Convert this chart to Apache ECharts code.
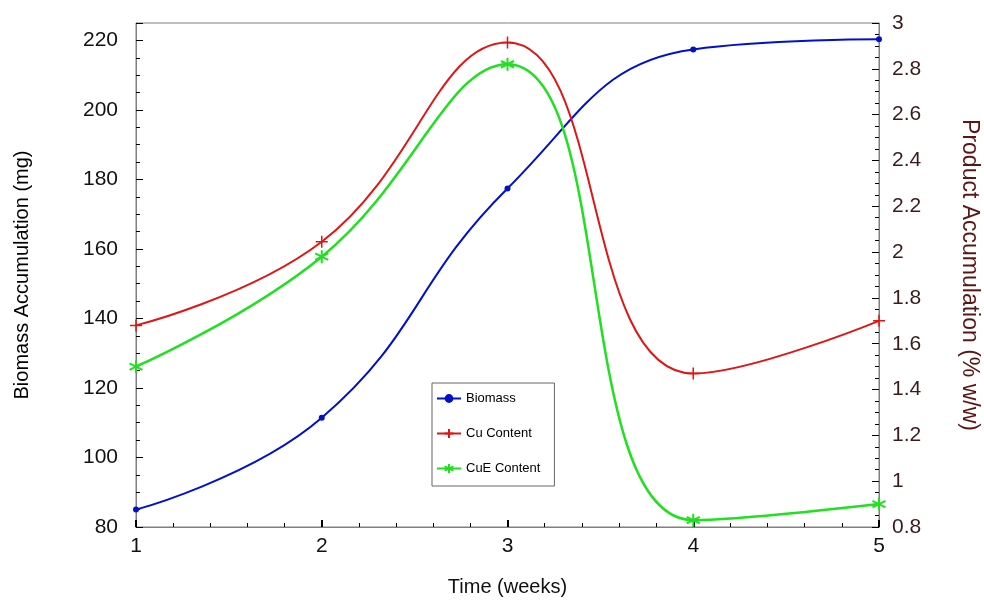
<!DOCTYPE html>
<html><head><meta charset="utf-8">
<script src="https://cdn.jsdelivr.net/npm/echarts@6/dist/echarts.min.js"></script>
<style>html,body{margin:0;padding:0;background:#fff}#c{width:984px;height:602px}</style>
</head><body><div id="c"></div>
<script>
const weeks = [1, 2, 3, 4, 5];
const biomass = [85, 111.4, 177.4, 217.4, 220.3];
const cuContent = [1.68, 2.045, 2.915, 1.47, 1.70];
const cueContent = [1.50, 1.98, 2.82, 0.83, 0.90];
const leftTicks = [80, 100, 120, 140, 160, 180, 200, 220];
const rightTicks = [0.8, 1, 1.2, 1.4, 1.6, 1.8, 2, 2.2, 2.4, 2.6, 2.8, 3];

const plusPath = 'path://M5,0L5,10M0,5L10,5';
const starPath = 'path://M5,0L5,10M0.7,2.5L9.3,7.5M0.7,7.5L9.3,2.5';
const font = 'Liberation Sans, Arial, sans-serif';

const chart = echarts.init(document.getElementById('c'), null, {renderer: 'canvas'});
chart.setOption({
  animation: false,
  backgroundColor: '#fff',
  grid: {left: 136, right: 105, top: 23, bottom: 75, show: true, borderColor: '#808080', borderWidth: 1,
         containLabel: false, outerBoundsMode: 'none'},
  legend: {
    orient: 'vertical', left: 432, top: 383, width: 110,
    itemWidth: 24, itemHeight: 11, itemGap: 22,
    padding: [9, 14, 11, 4],
    borderColor: '#666', borderWidth: 1, backgroundColor: '#fff',
    textStyle: {fontFamily: font, fontSize: 13, color: '#000'},
    data: ['Biomass', 'Cu Content', 'CuE Content']
  },
  xAxis: {
    type: 'value', min: 1, max: 5, interval: 1,
    name: 'Time (weeks)', nameLocation: 'middle', nameGap: 50,
    nameTextStyle: {fontFamily: font, fontSize: 20, color: '#111'},
    axisLine: {lineStyle: {color: '#808080'}},
    axisTick: {inside: true, length: 7, lineStyle: {color: '#000', width: 2}},
    minorTick: {show: true, splitNumber: 5, length: 4, lineStyle: {color: '#000'}},
    splitLine: {show: false},
    axisLabel: {fontFamily: font, fontSize: 21, color: '#111', margin: 9,
      formatter: v => weeks.includes(v) ? String(v) : ''}
  },
  yAxis: [{
    type: 'value', min: 80, max: 225, interval: 20, position: 'left',
    name: 'Biomass Accumulation (mg)', nameLocation: 'middle', nameGap: 104, nameRotate: 90,
    nameTextStyle: {fontFamily: font, fontSize: 20, color: '#000'},
    axisLine: {show: true, lineStyle: {color: '#808080'}},
    axisTick: {inside: true, length: 7, lineStyle: {color: '#000'}},
    minorTick: {show: true, splitNumber: 4, length: 4, lineStyle: {color: '#000'}},
    splitLine: {show: false},
    axisLabel: {fontFamily: font, fontSize: 21, color: '#111', margin: 18,
      formatter: v => leftTicks.includes(v) ? String(v) : ''}
  }, {
    type: 'value', min: 0.8, max: 3, interval: 0.2, position: 'right',
    name: 'Product Accumulation (% w/w)', nameLocation: 'middle', nameGap: 79, nameRotate: -90,
    nameTextStyle: {fontFamily: font, fontSize: 23, color: '#5a1515'},
    axisLine: {show: true, lineStyle: {color: '#808080'}},
    axisTick: {inside: true, length: 7, lineStyle: {color: '#000'}},
    minorTick: {show: true, splitNumber: 4, length: 4, lineStyle: {color: '#000'}},
    splitLine: {show: false},
    axisLabel: {fontFamily: font, fontSize: 21, color: '#3a1a1a', margin: 13,
      formatter: v => {
        const r = Math.round(v * 10) / 10;
        return rightTicks.some(t => Math.abs(t - r) < 1e-9) ? String(r) : '';
      }}
  }],
  series: [{
    name: 'Biomass', type: 'line', yAxisIndex: 0, smooth: 0.45,
    data: weeks.map((w, i) => [w, biomass[i]]),
    symbol: 'circle', symbolSize: 6,
    lineStyle: {color: '#0010cc', width: 2},
    itemStyle: {color: '#0010cc'}
  }, {
    name: 'Cu Content', type: 'line', yAxisIndex: 1, smooth: 0.45,
    data: weeks.map((w, i) => [w, cuContent[i]]),
    symbol: plusPath, symbolSize: 12,
    lineStyle: {color: '#e01515', width: 2},
    itemStyle: {color: '#e01515', borderColor: '#e01515', borderWidth: 1.5}
  }, {
    name: 'CuE Content', type: 'line', yAxisIndex: 1, smooth: 0.45,
    data: weeks.map((w, i) => [w, cueContent[i]]),
    symbol: starPath, symbolSize: 13,
    lineStyle: {color: '#20e020', width: 2.5},
    itemStyle: {color: '#20e020', borderColor: '#20e020', borderWidth: 2}
  }]
});
</script></body></html>
